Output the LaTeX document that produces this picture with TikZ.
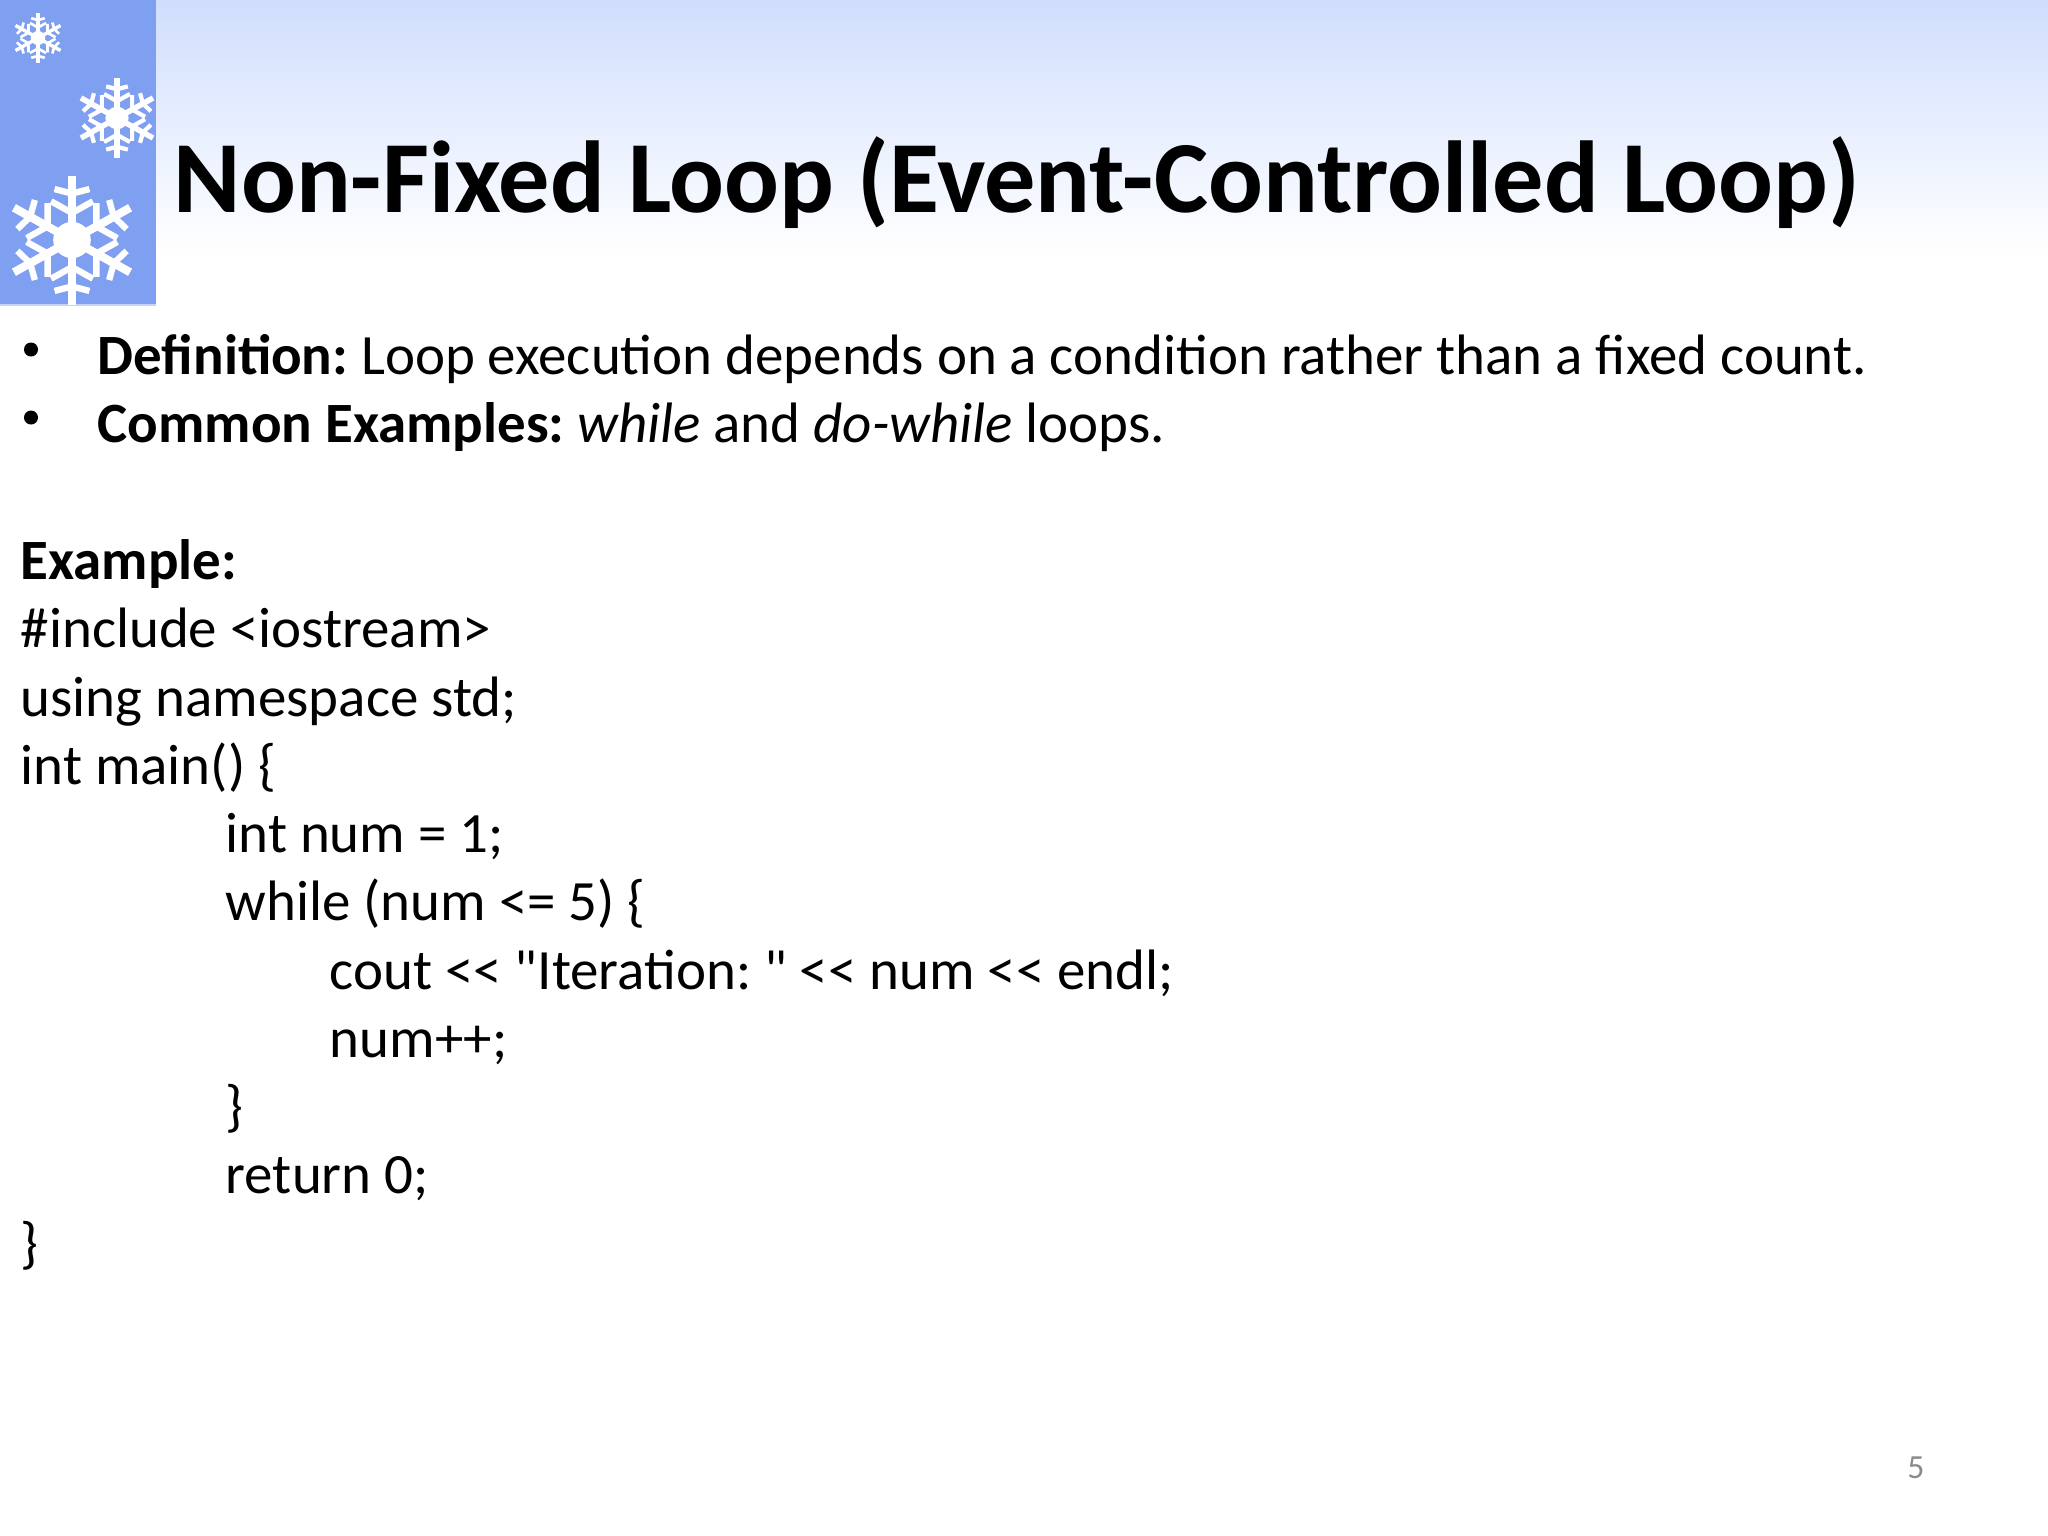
\documentclass[tikz,border=0pt]{standalone}
\usepackage{fontspec}
\setmainfont{Carlito}[Ligatures=TeXOff]
\frenchspacing
\definecolor{hdrblue}{HTML}{D0DEFD}
\definecolor{panelblue}{HTML}{7F9FF0}
\definecolor{paneledge}{HTML}{C4D3F8}
\definecolor{pagegray}{HTML}{8B8B8B}
\newcommand{\snowflake}[4]{%
  \begin{scope}[shift={(#1,#2)},xscale=1.04*#3,yscale=#3,white,line width=#4,line cap=butt]
    \fill (0,0) circle (0.28);
    \foreach \a in {30,90,150,210,270,330}{
      \begin{scope}[rotate=\a]
        \draw[line width=1.3*#4] (0,0) -- (1,0);
        \draw (0.42,0) -- ++(60:0.36);
        \draw (0.42,0) -- ++(-60:0.36);
        \draw (0.72,0) -- ++(75:0.27);
        \draw (0.72,0) -- ++(-75:0.27);
      \end{scope}
    }
  \end{scope}}
\tikzset{
  body/.style={anchor=base west,inner sep=0pt,font=\fontsize{16.2}{18}\selectfont,text=black},
  titletext/.style={anchor=base west,inner sep=0pt,font=\fontsize{29.07}{32}\selectfont\bfseries,text=black},
  pagenum/.style={anchor=base,inner sep=0pt,font=\fontsize{9.6}{11}\selectfont,text=pagegray},
  bulletdot/.style={circle,fill=black,inner sep=0pt,minimum size=0.14cm}
}
\begin{document}
\begin{tikzpicture}[x=0.01cm,y=-0.01cm]
  \useasboundingbox (0,0) rectangle (2048,1536);
  \fill[white] (0,0) rectangle (2048,1536);
  \shade[top color=hdrblue,bottom color=white] (0,0) rectangle (2048,256);
  \fill[paneledge] (0,300) rectangle (155.5,306);
  \fill[panelblue] (0,0) rectangle (155.5,304);
  \snowflake{38}{38}{25}{0.75pt}
  \snowflake{117}{118}{40}{1.2pt}
  \snowflake{72}{240}{64.5}{1.8pt}
  \node[titletext] (title) at (173,212) {Non-Fixed Loop (Event-Controlled Loop)};
  \node[bulletdot] (b1) at (31,349.5) {};
  \node[bulletdot] (b2) at (31,417.5) {};
  \node[body] (l1) at (97,374) {\textbf{Definition:} Loop execution depends on a condition rather than a fixed count.};
  \node[body] (l2) at (97,442.3) {\textbf{Common Examples:} \textit{while} and \textit{do-while} loops.};
  \node[body] (l3) at (20,579) {\textbf{Example:}};
  \node[body] (l4) at (20,647.3) {\#include <iostream>};
  \node[body] (l5) at (20,716) {using namespace std;};
  \node[body] (l6) at (20,784.2) {int main() \{};
  \node[body] (l7) at (225,852.4) {int num = 1;};
  \node[body] (l8) at (225,920.7) {while (num <= 5) \{};
  \node[body] (l9) at (329,989) {cout << "Iteration: " << num << endl;};
  \node[body] (l10) at (329,1057.2) {num++;};
  \node[body] (l11) at (225,1125.5) {\}};
  \node[body] (l12) at (225,1193.7) {return 0;};
  \node[body] (l13) at (20,1262) {\}};
  \node[pagenum] (pg) at (1916,1478) {5};
\end{tikzpicture}
\end{document}
